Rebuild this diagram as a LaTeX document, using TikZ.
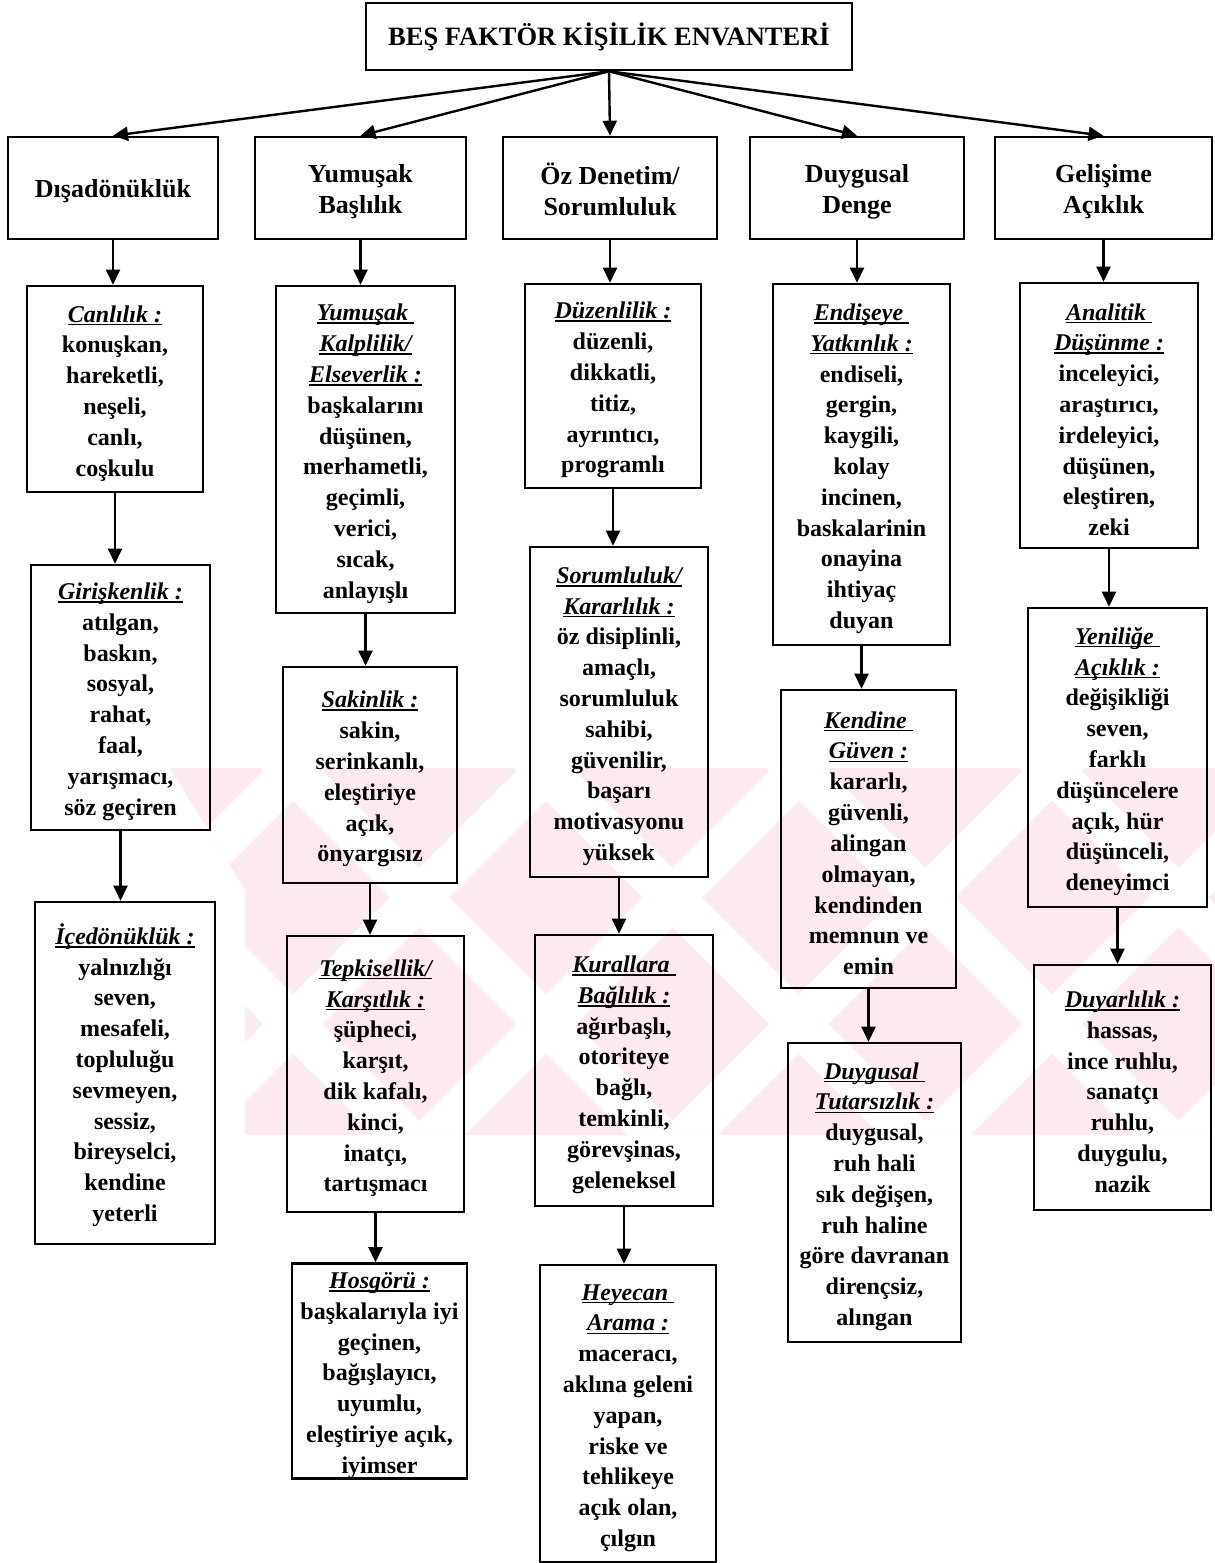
\documentclass[tikz,border=0pt]{standalone}
\usepackage{fontspec}
\setmainfont{Liberation Serif}
\usetikzlibrary{arrows.meta}
\definecolor{wmpink}{RGB}{253,234,238}
\newcommand\fstrut{\rule{0pt}{25pt}}
\newcommand\ulab[1]{\setbox0\hbox{\bfseries\itshape #1}\fstrut\rlap{\rule[-3.2pt]{\wd0}{1.6pt}}\box0}
\tikzset{
  box/.style={draw=black, line width=2.6pt, inner sep=0pt, align=center,
    font=\fontsize{24}{30.8}\selectfont\bfseries},
  hbox/.style={box, font=\fontsize{26}{31}\selectfont\bfseries},
  tbox/.style={draw=black, line width=2.6pt, inner sep=0pt, align=center,
    font=\fontsize{26.5}{31}\selectfont\bfseries},
  arr/.style={line width=2.4pt, -{Triangle[length=15pt,width=14pt]}}
}
\begin{document}
\begin{tikzpicture}[x=1pt,y=-1pt]
\useasboundingbox[fill=white] (0,0) rectangle (1215,1563);
% faint watermark
\begin{scope}
  \clip (170,768) -- (1215,768) -- (1215,1135) -- (245,1135) -- (245,890) -- cycle;
  \fill[wmpink] (0,700) rectangle (1215,1200);
  \foreach \c in {-984,-731,-478,-225,28,281,534,787}
    {\draw[white, line width=42pt] (\c+700,700) -- (\c+1200,1200);}
  \foreach \d in {811,1064,1317,1570,1823,2076,2329}
    {\draw[white, line width=42pt] (\d-700,700) -- (\d-1200,1200);}
\end{scope}
% top
\node[tbox, minimum width=486pt, minimum height=67pt] (top) at (609,36.5) {BEŞ FAKTÖR KİŞİLİK ENVANTERİ};
% level 1
\node[hbox, minimum width=210pt, minimum height=102pt] (d1) at (113,188) {\fstrut Dışadönüklük};
\node[hbox, minimum width=211pt, minimum height=102pt] (d2) at (360.5,188) {\fstrut Yumuşak\\Başlılık};
\node[hbox, minimum width=214pt, minimum height=102pt] (d3) at (610,188) {\fstrut Öz Denetim/\\Sorumluluk};
\node[hbox, minimum width=214pt, minimum height=102pt] (d4) at (857,188) {\fstrut Duygusal\\Denge};
\node[hbox, minimum width=217pt, minimum height=102pt] (d5) at (1103.5,188) {\fstrut Gelişime\\Açıklık};
% column 1
\node[box, minimum width=176pt, minimum height=206pt] (c1a) at (115,389)
 {\ulab{Canlılık :}\\konuşkan,\\hareketli,\\neşeli,\\canlı,\\coşkulu};
\node[box, minimum width=179pt, minimum height=265pt] (c1b) at (120.5,697.5)
 {\ulab{Girişkenlik :}\\atılgan,\\baskın,\\sosyal,\\rahat,\\faal,\\yarışmacı,\\söz geçiren};
\node[box, minimum width=180pt, minimum height=342pt] (c1c) at (125,1073)
 {\ulab{İçedönüklük :}\\yalnızlığı\\seven,\\mesafeli,\\topluluğu\\sevmeyen,\\sessiz,\\bireyselci,\\kendine\\yeterli};
% column 2
\node[box, minimum width=179pt, minimum height=327pt] (c2a) at (365.5,449.5)
 {\ulab{Yumuşak\ }\\\ulab{Kalplilik/}\\\ulab{Elseverlik :}\\başkalarını\\düşünen,\\merhametli,\\geçimli,\\verici,\\sıcak,\\anlayışlı};
\node[box, minimum width=174pt, minimum height=216pt] (c2b) at (370,775)
 {\ulab{Sakinlik :}\\sakin,\\serinkanlı,\\eleştiriye\\açık,\\önyargısız};
\node[box, minimum width=177pt, minimum height=276pt] (c2c) at (375.5,1074)
 {\ulab{Tepkisellik/}\\\ulab{Karşıtlık :}\\şüpheci,\\karşıt,\\dik kafalı,\\kinci,\\inatçı,\\tartışmacı};
\node[box, minimum width=175pt, minimum height=210pt] (c2d) at (379.5,1371)
 {\ulab{Hosgörü :}\\başkalarıyla iyi\\geçinen,\\bağışlayıcı,\\uyumlu,\\eleştiriye açık,\\iyimser};
% column 3
\node[box, minimum width=176pt, minimum height=204pt] (c3a) at (613,386)
 {\ulab{Düzenlilik :}\\düzenli,\\dikkatli,\\titiz,\\ayrıntıcı,\\programlı};
\node[box, minimum width=178pt, minimum height=330pt] (c3b) at (619,712)
 {\ulab{Sorumluluk/}\\\ulab{Kararlılık :}\\öz disiplinli,\\amaçlı,\\sorumluluk\\sahibi,\\güvenilir,\\başarı\\motivasyonu\\yüksek};
\node[box, minimum width=178pt, minimum height=271pt] (c3c) at (624,1070.5)
 {\ulab{Kurallara\ }\\\ulab{Bağlılık :}\\ağırbaşlı,\\otoriteye\\bağlı,\\temkinli,\\görevşinas,\\geleneksel};
\node[box, minimum width=176pt, minimum height=297pt] (c3d) at (628,1413.5)
 {\ulab{Heyecan\ }\\\ulab{Arama :}\\maceracı,\\aklına geleni\\yapan,\\riske ve\\tehlikeye\\açık olan,\\çılgın};
% column 4
\node[box, minimum width=177pt, minimum height=361pt] (c4a) at (861.5,464.5)
 {\ulab{Endişeye\ }\\\ulab{Yatkınlık :}\\endiseli,\\gergin,\\kaygili,\\kolay\\incinen,\\baskalarinin\\onayina\\ihtiyaç\\duyan};
\node[box, minimum width=175pt, minimum height=298pt] (c4b) at (868.5,839)
 {\ulab{Kendine\ }\\\ulab{Güven :}\\kararlı,\\güvenli,\\alingan\\olmayan,\\kendinden\\memnun ve\\emin};
\node[box, minimum width=173pt, minimum height=299pt] (c4c) at (874.5,1192.5)
 {\ulab{Duygusal\ }\\\ulab{Tutarsızlık :}\\duygusal,\\ruh hali\\sık değişen,\\ruh haline\\göre davranan\\dirençsiz,\\alıngan};
% column 5
\node[box, minimum width=178pt, minimum height=265pt] (c5a) at (1109,415.5)
 {\ulab{Analitik\ }\\\ulab{Düşünme :}\\inceleyici,\\araştırıcı,\\irdeleyici,\\düşünen,\\eleştiren,\\zeki};
\node[box, minimum width=179pt, minimum height=299pt] (c5b) at (1117.5,757.5)
 {\ulab{Yeniliğe\ }\\\ulab{Açıklık :}\\değişikliği\\seven,\\farklı\\düşüncelere\\açık, hür\\düşünceli,\\deneyimci};
\node[box, minimum width=177pt, minimum height=245pt] (c5c) at (1122.5,1087.5)
 {\ulab{Duyarlılık :}\\hassas,\\ince ruhlu,\\sanatçı\\ruhlu,\\duygulu,\\nazik};
% arrows from top
\foreach \d in {d1,d2,d3,d4,d5}{\draw[arr] (top.south) -- (\d.north);}
% vertical arrows
\foreach \a/\b in {d1/c1a,c1a/c1b,c1b/c1c,d2/c2a,c2a/c2b,c2b/c2c,c2c/c2d,d3/c3a,c3a/c3b,c3b/c3c,c3c/c3d,d4/c4a,c4a/c4b,c4b/c4c,d5/c5a,c5a/c5b,c5b/c5c}
  {\draw[arr] (\a.south) -- (\a.south |- \b.north);}
\end{tikzpicture}
\end{document}
